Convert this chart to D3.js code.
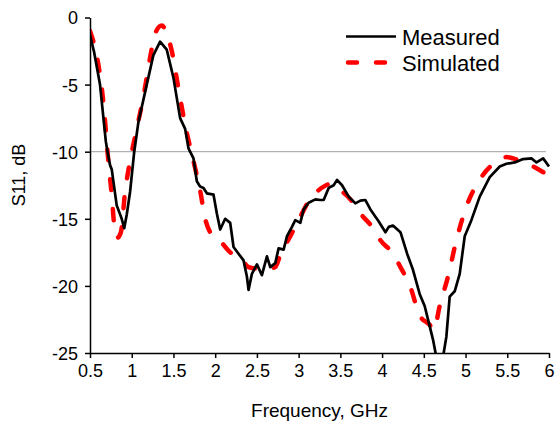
<!DOCTYPE html>
<html>
<head>
<meta charset="utf-8">
<script src="https://cdn.jsdelivr.net/npm/d3@7"></script>
<style>
  body { margin: 0; background: #fff; }
  text { font-family: Arial, "Liberation Sans", sans-serif; fill: #000; }
</style>
</head>
<body>
<script>
// frequency (GHz) and S11 (dB)
var measFreq = [0.50,0.55,0.62,0.69,0.71,0.74,0.76,0.82,0.88,0.91,0.94,0.98,1.03,1.08,1.18,1.26,1.34,1.42,1.50,1.58,1.64,1.68,1.74,1.78,1.82,1.86,1.90,1.98,2.02,2.06,2.12,2.18,2.22,2.28,2.34,2.38,2.40,2.44,2.50,2.56,2.62,2.66,2.72,2.76,2.82,2.86,2.92,2.96,3.02,3.06,3.12,3.20,3.26,3.30,3.36,3.42,3.46,3.52,3.60,3.68,3.74,3.80,3.86,3.96,4.04,4.08,4.13,4.22,4.30,4.37,4.45,4.51,4.57,4.61,4.65,4.69,4.73,4.77,4.81,4.87,4.93,4.99,5.07,5.17,5.29,5.41,5.49,5.59,5.69,5.79,5.85,5.93,6.00];
var measS11 = [-1.3,-2.6,-5.0,-9.25,-10.0,-11.0,-11.3,-14.0,-15.0,-15.7,-14.7,-13.0,-10.0,-7.8,-5.0,-2.8,-1.8,-2.4,-4.5,-7.5,-8.3,-9.75,-10.5,-12.2,-12.6,-12.7,-13.1,-13.2,-14.6,-15.8,-15.0,-15.3,-17.1,-17.6,-18.1,-19.3,-20.3,-19.1,-18.4,-19.2,-17.8,-18.6,-18.3,-17.2,-17.3,-16.3,-15.6,-15.1,-15.3,-14.3,-13.8,-13.55,-13.6,-13.6,-12.7,-12.5,-12.1,-12.5,-13.35,-13.85,-13.65,-13.6,-14.3,-15.2,-16.0,-15.6,-15.5,-16.0,-17.6,-18.8,-20.6,-21.5,-23.0,-24.0,-25.3,-26.0,-25.3,-23.8,-20.8,-20.4,-19.1,-16.3,-15.1,-13.35,-11.9,-11.1,-10.9,-10.8,-10.55,-10.5,-10.8,-10.5,-11.1];

var simFreq = [0.50,0.60,0.66,0.72,0.76,0.80,0.83,0.87,0.92,0.98,1.06,1.14,1.22,1.28,1.36,1.42,1.48,1.56,1.64,1.74,1.82,1.88,1.94,2.08,2.18,2.30,2.40,2.48,2.66,2.72,2.78,2.90,3.02,3.12,3.20,3.30,3.38,3.46,3.64,3.74,3.88,3.98,4.13,4.22,4.34,4.45,4.57,4.62,4.69,4.79,4.89,5.01,5.19,5.41,5.49,5.57,5.81,5.95];
var simS11 = [-1.0,-3.5,-6.3,-10.7,-13.2,-16.0,-16.4,-16.0,-13.0,-10.7,-8.3,-5.9,-3.0,-1.2,-0.6,-1.2,-2.5,-5.3,-8.0,-10.7,-12.9,-15.0,-16.0,-16.8,-17.5,-17.9,-18.6,-18.7,-18.7,-18.6,-17.7,-16.3,-14.85,-13.7,-13.1,-12.6,-12.4,-12.7,-13.7,-14.6,-15.6,-16.6,-17.6,-18.6,-20.1,-22.2,-22.9,-23.3,-21.5,-19.3,-16.6,-14.1,-11.9,-10.6,-10.4,-10.5,-11.1,-11.6];

var xTicks = [0.5,1,1.5,2,2.5,3,3.5,4,4.5,5,5.5,6];
var yTicks = [0,-5,-10,-15,-20,-25];
var refLevel = -10;

var width = 555, height = 425;
var plotL = 90, plotR = 549, plotT = 17.5, plotB = 353;

var svg = d3.select("body").append("svg")
    .attr("width", width)
    .attr("height", height);

var x = d3.scaleLinear().domain([0.5, 6]).range([plotL, plotR]);
var y = d3.scaleLinear().domain([-25, 0]).range([plotB, plotT]);

svg.append("clipPath").attr("id", "plot")
  .append("rect")
    .attr("x", plotL).attr("y", plotT - 10)
    .attr("width", plotR - plotL + 5).attr("height", plotB - plotT + 10);

// -10 dB reference line
svg.append("line")
    .attr("x1", x(0.5)).attr("x2", 546)
    .attr("y1", y(refLevel)).attr("y2", y(refLevel))
    .attr("stroke", "#a0a0a0")
    .attr("stroke-width", 1);

var line = d3.line()
    .x(function (d) { return x(d[0]); })
    .y(function (d) { return y(d[1]); });

var sim = simFreq.map(function (f, i) { return [f, simS11[i]]; });
var meas = measFreq.map(function (f, i) { return [f, measS11[i]]; });

var g = svg.append("g").attr("clip-path", "url(#plot)");

g.append("path")
    .attr("d", line.curve(d3.curveMonotoneX)(sim))
    .attr("fill", "none")
    .attr("stroke", "#ff0000")
    .attr("stroke-width", 4.5)
    .attr("stroke-linecap", "round")
    .attr("stroke-dasharray", "11,19");

g.append("path")
    .attr("d", line.curve(d3.curveLinear)(meas))
    .attr("fill", "none")
    .attr("stroke", "#000")
    .attr("stroke-width", 2.7)
    .attr("stroke-linejoin", "round");

// axes, hyphen minus like the original
var fmt = function (d) { return String(d); };
var xAxis = svg.append("g")
    .attr("transform", "translate(0," + plotB + ")")
    .call(d3.axisBottom(x).tickValues(xTicks).tickSize(5).tickSizeOuter(0).tickFormat(fmt));
var yAxis = svg.append("g")
    .attr("transform", "translate(" + plotL + ",0)")
    .call(d3.axisLeft(y).tickValues(yTicks).tickSize(5).tickSizeOuter(0).tickFormat(fmt));

[xAxis, yAxis].forEach(function (a) {
  a.select(".domain").attr("stroke", "#000").attr("stroke-width", 1.5);
  a.selectAll(".tick line").attr("stroke", "#000").attr("stroke-width", 1.5);
  a.selectAll(".tick text")
    .style("font-family", "Arial, 'Liberation Sans', sans-serif")
    .style("font-size", "18px")
    .attr("fill", "#000");
});
xAxis.selectAll(".tick text").attr("y", 11);
yAxis.selectAll(".tick text").attr("x", -12).attr("dy", "0.36em");

// axis titles
svg.append("text")
    .attr("x", (plotL + plotR) / 2)
    .attr("y", 417)
    .attr("text-anchor", "middle")
    .style("font-size", "19px")
    .text("Frequency, GHz");

svg.append("text")
    .attr("transform", "translate(25,175) rotate(-90)")
    .attr("text-anchor", "middle")
    .style("font-size", "18px")
    .text("S11, dB");

// legend
var legend = [
  { name: "Measured", color: "#000", w: 2.7, dash: null, y: 36.5, x2: 396 },
  { name: "Simulated", color: "#ff0000", w: 4.5, dash: "9,19", y: 62.5, x2: 391 }
];
legend.forEach(function (d) {
  svg.append("line")
      .attr("x1", d.dash ? 348 : 346).attr("x2", d.x2)
      .attr("y1", d.y).attr("y2", d.y)
      .attr("stroke", d.color)
      .attr("stroke-width", d.w)
      .attr("stroke-linecap", d.dash ? "round" : "butt")
      .attr("stroke-dasharray", d.dash);
  svg.append("text")
      .attr("x", 402).attr("y", d.y + 8.5)
      .style("font-size", "22px")
      .text(d.name);
});
</script>
</body>
</html>
